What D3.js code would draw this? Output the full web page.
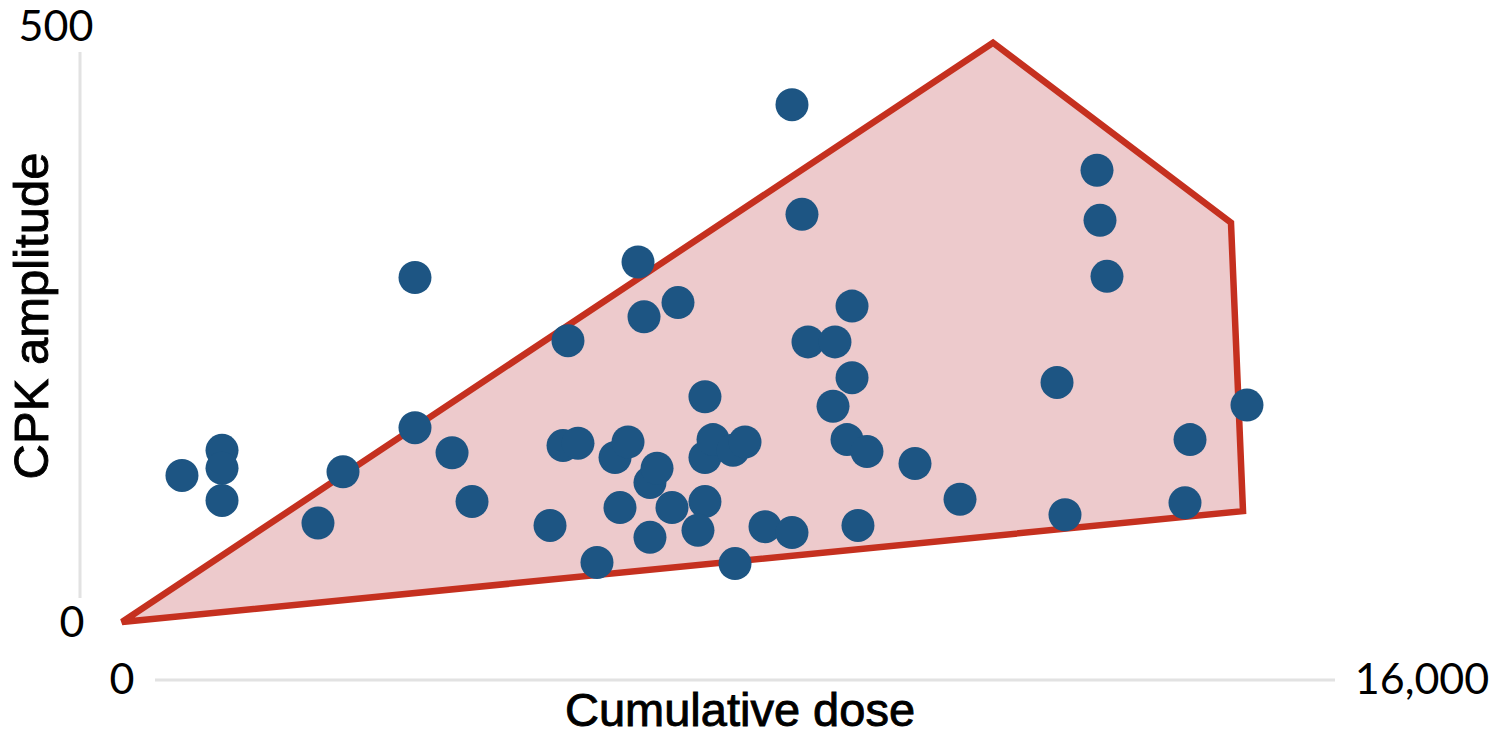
<!DOCTYPE html>
<html><head><meta charset="utf-8">
<script src="https://cdn.jsdelivr.net/npm/d3@7"></script>
<style>body{margin:0;background:#fff;} svg{display:block;}</style>
</head><body>
<svg id="chart" width="1508" height="736"></svg>
<script>
// Data (cumulative dose, CPK amplitude)
const doseValues = [738,1231,1231,1231,2720,2412,3606,3606,4062,4308,5489,5268,5428,5612,5846,6068,6228,6129,6351,6425,6498,6585,6498,6769,6843,7175,7175,7175,7089,7274,7520,7668,7545,7914,8246,8246,8369,8443,8775,8985,8985,8751,8923,9169,9058,9760,10314,11508,11606,12000,12037,12123,13145,13083,13846];
const cpkValues  = [123,144,129,102,126,83,289,163,142,101,236,81,148,150,50,138,151,96,302,256,117,129,71,96,268,189,101,138,77,153,144,151,49,80,75,434,342,235,235,265,205,181,153,143,81,133,103,201,90,379,337,290,153,100,182];
const hullDose = [0,10720,13649,13797];
const hullCpk  = [0,486,335,93];
const yTickLabels = ["0","500"];
const yTickValues = [0,500];
const xTickLabels = ["0","16,000"];
const xTickValues = [0,16000];

const svg = d3.select("#chart");
const x = d3.scaleLinear().domain([0,16000]).range([122,1422]);
const y = d3.scaleLinear().domain([0,500]).range([622,26]);

// faint axis lines
svg.append("line").attr("x1",80).attr("x2",80).attr("y1",52).attr("y2",598)
  .attr("stroke","#e2e2e2").attr("stroke-width",3);
svg.append("line").attr("x1",155).attr("x2",1335).attr("y1",680).attr("y2",680)
  .attr("stroke","#e2e2e2").attr("stroke-width",3);

// hull polygon
const hull = hullDose.map((d,i)=>[x(d), y(hullCpk[i])]);
svg.append("path")
  .attr("d", d3.line()(hull) + "Z")
  .attr("fill","#edcacc")
  .attr("stroke","#c5301f")
  .attr("stroke-width",6.5)
  .attr("stroke-linejoin","miter");

// points
svg.append("g").selectAll("circle")
  .data(doseValues.map((d,i)=>({d, c:cpkValues[i]})))
  .join("circle")
  .attr("cx", p=>x(p.d)).attr("cy", p=>y(p.c)).attr("r",16.5)
  .attr("fill","#1d5583");

// tick labels
const tickFont = "Lato, 'Open Sans', sans-serif";
svg.append("g").selectAll("text").data(yTickValues).join("text")
  .attr("x", (d,i)=> i===0 ? 72 : 56)
  .attr("y", d=>y(d))
  .attr("dy","0.36em")
  .attr("text-anchor","middle")
  .attr("font-family",tickFont).attr("font-size",43).attr("fill","#000")
  .text((d,i)=>yTickLabels[i]);
svg.append("g").selectAll("text").data(xTickValues).join("text")
  .attr("x", d=>x(d))
  .attr("y", 694)
  .attr("text-anchor","middle")
  .attr("font-family",tickFont).attr("font-size",43).attr("fill","#000")
  .text((d,i)=>xTickLabels[i]);

// axis titles
svg.append("text")
  .attr("x",740).attr("y",726)
  .attr("text-anchor","middle")
  .attr("font-family","Liberation Sans, Arial, sans-serif").attr("font-size",47).attr("fill","#000")
  .attr("stroke","#000").attr("stroke-width",0.9)
  .text("Cumulative dose");
svg.append("text")
  .attr("transform","translate(48,316) rotate(-90)")
  .attr("text-anchor","middle")
  .attr("font-family","Liberation Sans, Arial, sans-serif").attr("font-size",49).attr("fill","#000")
  .attr("stroke","#000").attr("stroke-width",0.9)
  .text("CPK amplitude");
</script>
</body></html>
